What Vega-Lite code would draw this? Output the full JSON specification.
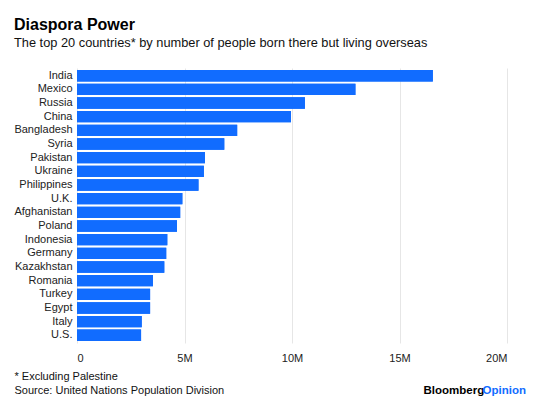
{
  "$schema": "https://vega.github.io/schema/vega-lite/v6.json",
  "width": 430,
  "height": 275,
  "autosize": {"type": "none"},
  "padding": {"left": 77, "top": 68, "right": 53, "bottom": 59},
  "background": "white",
  "config": {
    "font": "Liberation Sans",
    "view": {"stroke": null},
    "axis": {"labelFont": "Liberation Sans", "titleFont": "Liberation Sans"}
  },
  "title": {
    "text": "Diaspora Power",
    "subtitle": "The top 20 countries* by number of people born there but living overseas",
    "anchor": "start",
    "frame": "group",
    "dx": -63,
    "offset": 18,
    "fontSize": 16,
    "fontWeight": "bold",
    "color": "#000000",
    "subtitleFontSize": 12.8,
    "subtitleColor": "#111111",
    "subtitlePadding": 4,
    "subtitleFont": "Liberation Sans"
  },
  "data": {
    "values": [
      {"country": "India", "migrants": 16550000},
      {"country": "Mexico", "migrants": 12950000},
      {"country": "Russia", "migrants": 10600000},
      {"country": "China", "migrants": 9950000},
      {"country": "Bangladesh", "migrants": 7450000},
      {"country": "Syria", "migrants": 6850000},
      {"country": "Pakistan", "migrants": 5950000},
      {"country": "Ukraine", "migrants": 5900000},
      {"country": "Philippines", "migrants": 5650000},
      {"country": "U.K.", "migrants": 4900000},
      {"country": "Afghanistan", "migrants": 4800000},
      {"country": "Poland", "migrants": 4650000},
      {"country": "Indonesia", "migrants": 4200000},
      {"country": "Germany", "migrants": 4150000},
      {"country": "Kazakhstan", "migrants": 4060000},
      {"country": "Romania", "migrants": 3530000},
      {"country": "Turkey", "migrants": 3400000},
      {"country": "Egypt", "migrants": 3400000},
      {"country": "Italy", "migrants": 3010000},
      {"country": "U.S.", "migrants": 2980000}
    ]
  },
  "layer": [
    {
      "mark": {"type": "bar", "color": "#116cff"},
      "encoding": {
        "y": {
          "field": "country",
          "type": "nominal",
          "sort": null,
          "scale": {"paddingInner": 0.17, "paddingOuter": 0.15},
          "axis": {
            "title": "Bloomberg",
            "titleAngle": 0,
            "titleX": 346,
            "titleY": 325,
            "titleAlign": "left",
            "titleBaseline": "alphabetic",
            "titleFontSize": 11.5,
            "titleFontWeight": "bold",
            "titleColor": "#000000",
            "labelFontSize": 11,
            "labelColor": "#222222",
            "labelPadding": 5,
            "ticks": false,
            "domain": false,
            "grid": false
          }
        },
        "x": {
          "field": "migrants",
          "type": "quantitative",
          "scale": {"domain": [0, 20000000], "nice": false},
          "axis": {
            "values": [0, 5000000, 10000000, 15000000, 20000000],
            "labelExpr": "datum.value == 0 ? '0' : (datum.value / 1000000) + 'M'",
            "labelFontSize": 11,
            "labelColor": "#222222",
            "labelPadding": 9,
            "ticks": false,
            "domain": false,
            "grid": true,
            "gridColor": "#e6e6e6",
            "gridWidth": 1,
            "title": ["* Excluding Palestine", "Source: United Nations Population Division"],
            "titleX": -63,
            "titleY": 36,
            "titleAlign": "left",
            "titleAnchor": "start",
            "titleBaseline": "alphabetic",
            "titleFontSize": 11,
            "titleFontWeight": "normal",
            "titleColor": "#111111",
            "titleLineHeight": 14
          }
        }
      }
    },
    {
      "mark": {"type": "bar", "color": "#116cff"},
      "encoding": {
        "y": {
          "field": "country",
          "type": "nominal",
          "sort": null,
          "axis": {
            "orient": "right",
            "title": "Opinion",
            "titleAngle": 0,
            "titleX": -25,
            "titleY": 325,
            "titleAlign": "left",
            "titleBaseline": "alphabetic",
            "titleFontSize": 11.5,
            "titleFontWeight": "bold",
            "titleColor": "#116cff",
            "labels": false,
            "ticks": false,
            "domain": false,
            "grid": false
          }
        },
        "x": {"field": "migrants", "type": "quantitative"}
      }
    }
  ],
  "resolve": {"axis": {"y": "independent"}}
}
